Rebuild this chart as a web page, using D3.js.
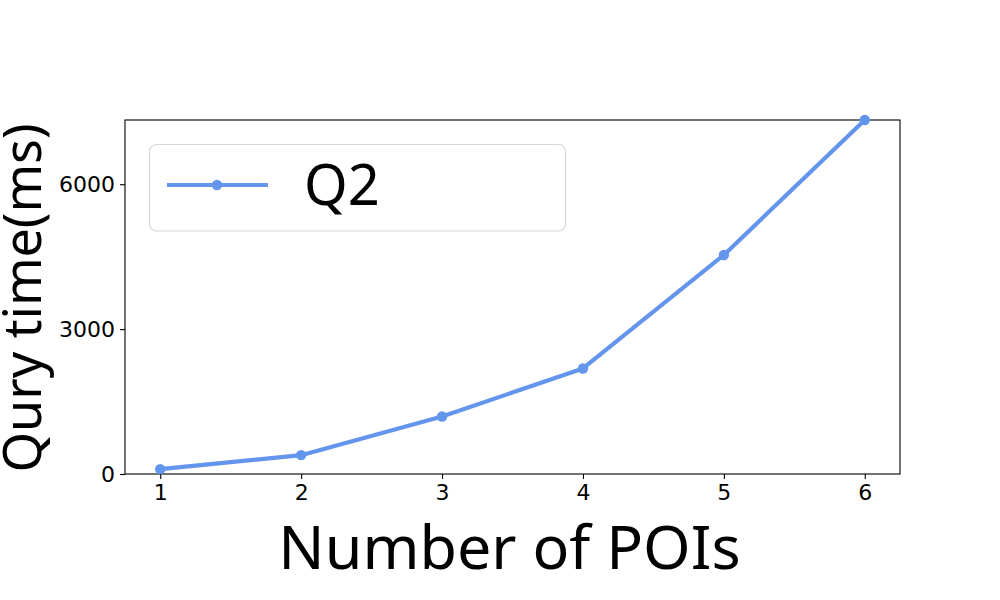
<!DOCTYPE html>
<html>
<head>
<meta charset="utf-8">
<script src="https://cdn.jsdelivr.net/npm/d3@7"></script>
<style>
  body { margin: 0; background: #fff; }
  svg { display: block; }
</style>
</head>
<body>
<svg id="chart" width="1000" height="600"></svg>
<script>
// data
const poiCounts = [1, 2, 3, 4, 5, 6];
const q2Times = [100, 390, 1190, 2185, 4535, 7330];
const yTicks = [0, 3000, 6000];
const seriesName = 'Q2';

const margin = { top: 120, right: 100, bottom: 126, left: 125 };
const width = 1000, height = 600;
const svg = d3.select('#chart');

const x = d3.scaleLinear()
  .domain([0.75, 6.25])
  .range([margin.left, width - margin.right]);
const y = d3.scaleLinear()
  .domain([0, d3.max(q2Times)])
  .range([height - margin.bottom, margin.top]);

const color = '#6495ed';
const tickFont = '"DejaVu Sans", sans-serif';
const labelFont = '"Noto Sans", "Open Sans", sans-serif';

// axes
const xAxis = svg.append('g')
  .attr('transform', `translate(0,${height - margin.bottom})`)
  .call(d3.axisBottom(x).tickValues(poiCounts).tickSize(5).tickPadding(5).tickFormat(d3.format('d')));
const yAxis = svg.append('g')
  .attr('transform', `translate(${margin.left},0)`)
  .call(d3.axisLeft(y).tickValues(yTicks).tickSize(5).tickPadding(5).tickFormat(d3.format('d')));

[xAxis, yAxis].forEach(a => {
  a.select('.domain').remove();
  a.selectAll('line').attr('stroke', '#000').attr('stroke-width', 1.1);
  a.selectAll('text').attr('font-family', tickFont).attr('font-size', 22).attr('fill', '#000');
});

// frame
svg.append('rect')
  .attr('x', margin.left)
  .attr('y', margin.top)
  .attr('width', width - margin.left - margin.right)
  .attr('height', height - margin.top - margin.bottom)
  .attr('fill', 'none')
  .attr('stroke', '#000')
  .attr('stroke-width', 1.1);

// line + markers
const line = d3.line()
  .x((d, i) => x(poiCounts[i]))
  .y(d => y(d));

svg.append('path')
  .datum(q2Times)
  .attr('d', line)
  .attr('fill', 'none')
  .attr('stroke', color)
  .attr('stroke-width', 4.2)
  .attr('stroke-linejoin', 'round');

svg.append('g')
  .selectAll('circle')
  .data(q2Times)
  .join('circle')
  .attr('cx', (d, i) => x(poiCounts[i]))
  .attr('cy', d => y(d))
  .attr('r', 5.2)
  .attr('fill', color);

// legend
const lg = svg.append('g');
lg.append('rect')
  .attr('x', 149.5).attr('y', 144.5)
  .attr('width', 416).attr('height', 86.5)
  .attr('rx', 7)
  .attr('fill', '#fff')
  .attr('fill-opacity', 0.8)
  .attr('stroke', '#d6d6d6')
  .attr('stroke-width', 1.1);
lg.append('line')
  .attr('x1', 167).attr('x2', 268)
  .attr('y1', 185).attr('y2', 185)
  .attr('stroke', color)
  .attr('stroke-width', 4.2);
lg.append('circle')
  .attr('cx', 217).attr('cy', 185).attr('r', 5.2)
  .attr('fill', color);
lg.append('text')
  .attr('x', 304).attr('y', 205)
  .attr('font-family', labelFont)
  .attr('font-size', 56)
  .attr('fill', '#000')
  .text(seriesName);

// axis labels
svg.append('text')
  .attr('x', (margin.left + width - margin.right) / 2 - 3)
  .attr('y', 569)
  .attr('text-anchor', 'middle')
  .attr('font-family', labelFont)
  .attr('font-size', 61)
  .attr('fill', '#000')
  .text('Number of POIs');

svg.append('text')
  .attr('transform', `translate(41,${(margin.top + height - margin.bottom) / 2 + 1}) rotate(-90)`)
  .attr('text-anchor', 'middle')
  .attr('font-family', labelFont)
  .attr('font-size', 52)
  .attr('fill', '#000')
  .text('Qury time(ms)');
</script>
</body>
</html>
